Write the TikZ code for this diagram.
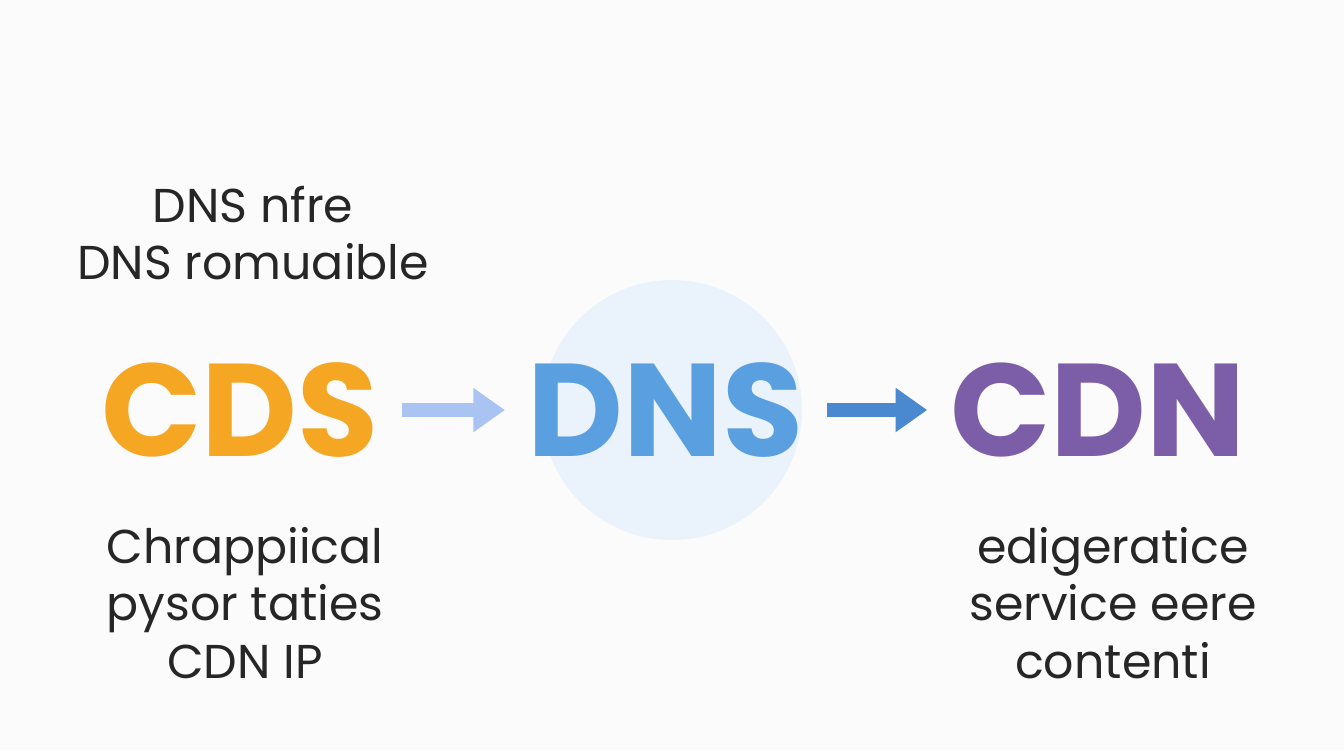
\documentclass[tikz,border=0pt]{standalone}
\usepackage{fontspec}
\setmainfont{Poppins}
\usetikzlibrary{arrows.meta}
\definecolor{cdsorange}{HTML}{F5A623}
\definecolor{dnsblue}{HTML}{5A9FE0}
\definecolor{cdnpurple}{HTML}{7B5EA7}
\definecolor{arrowlight}{HTML}{A9C3F2}
\definecolor{arrowdark}{HTML}{4A88D0}
\definecolor{halo}{HTML}{EAF2FC}
\begin{document}
\begin{tikzpicture}[x=0.01cm,y=-0.01cm,
  big/.style = {font=\fontsize{37.5}{40}\selectfont\bfseries},
  note/.style = {font=\fontsize{13.5}{16.3}\selectfont, align=center, text=black!85},
  link/.style = {line width=4pt, shorten >=3pt, shorten <=3pt, -{Triangle[length=9pt,width=12pt]}}]
\useasboundingbox[fill=white!97!gray] (0,0) rectangle (1344,750);
\fill[halo] (672,410) circle (130);
\node[note] (top) at (253,233) {DNS nfre\\DNS romuaible};
\node[big, text=cdsorange] (cds) at (240,410) {CDS};
\node[big, text=dnsblue] (dns) at (666,410) {DNS};
\node[big, text=cdnpurple] (cdn) at (1098,410) {CDN};
\node[note] (left) at (245,603) {Chrappiical\\pysor taties\\CDN IP};
\node[note] (right) at (1113,603) {edigeratice\\service eere\\contenti};
\draw[link, arrowlight] (cds) -- (dns);
\draw[link, arrowdark] (dns) -- (cdn);
\end{tikzpicture}
\end{document}
